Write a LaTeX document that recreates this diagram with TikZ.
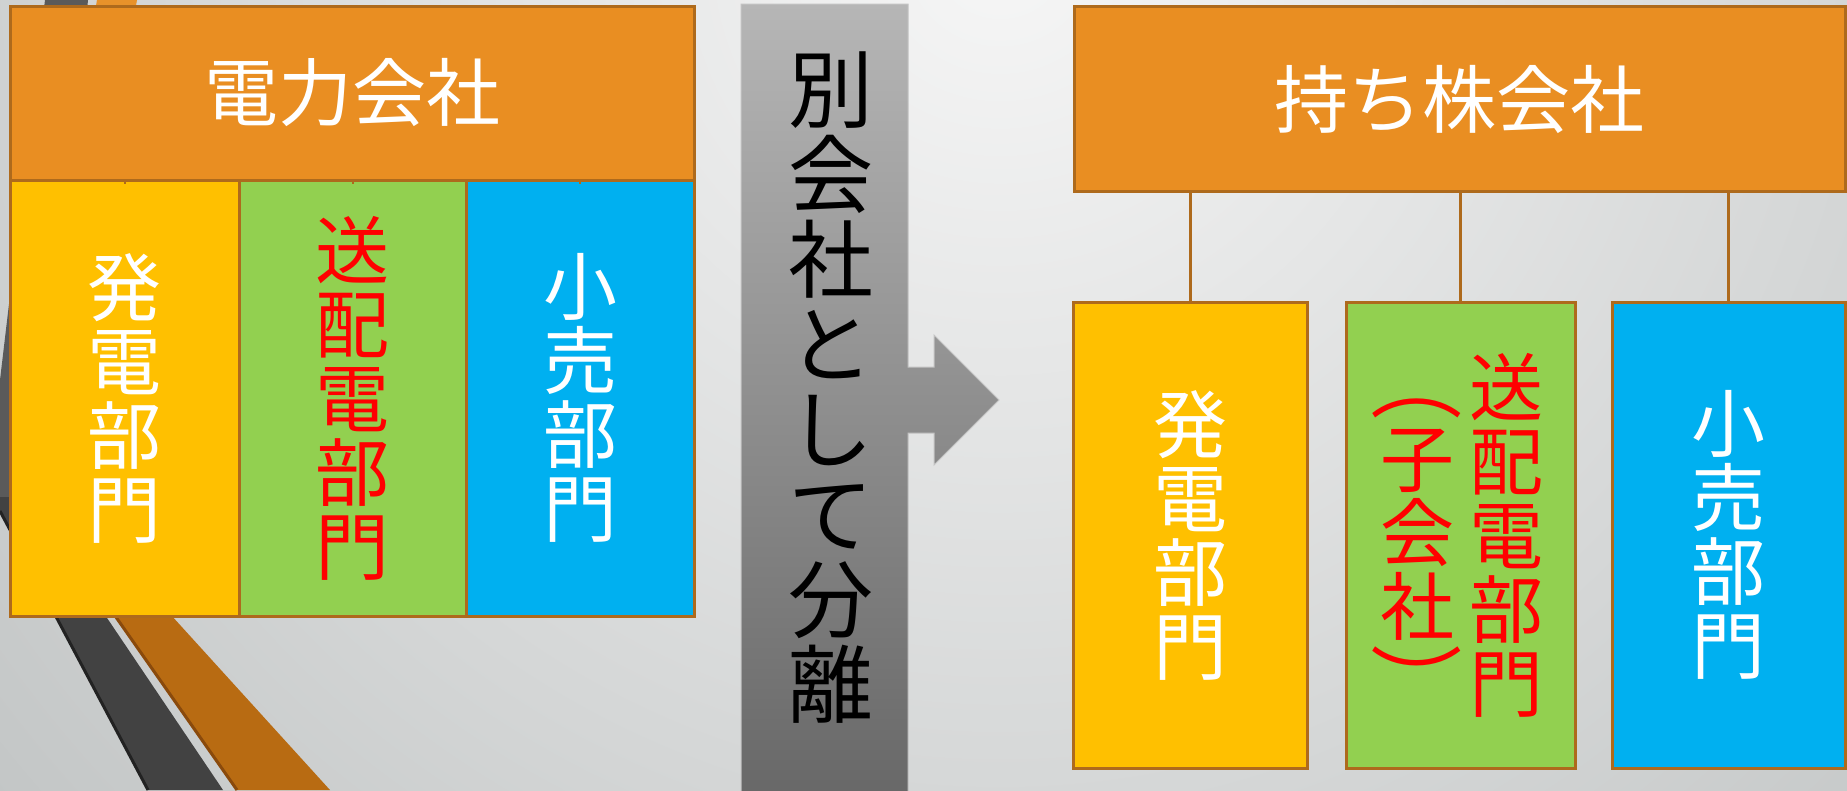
\documentclass[tikz,border=0pt]{standalone}
\usepackage{graphicx}
\usepackage{fontspec}
\newfontfamily\cjk{Noto Sans CJK JP}
\definecolor{bgin}{HTML}{F6F6F6}
\definecolor{bgout}{HTML}{B4B8B8}
\definecolor{corange}{HTML}{E98E22}
\definecolor{cyellow}{HTML}{FFC000}
\definecolor{cgreen}{HTML}{92D050}
\definecolor{cblue}{HTML}{00B0F0}
\definecolor{cedge}{HTML}{AE6A1C}
\definecolor{cdark}{HTML}{424242}
\definecolor{cdarkline}{HTML}{222222}
\definecolor{cdarktop}{HTML}{5A5A5A}
\definecolor{cbrown}{HTML}{B86B12}
\definecolor{cbrownline}{HTML}{8A4A0C}
\definecolor{ctoporange}{HTML}{E8922A}
\definecolor{cred}{HTML}{FF0000}
\definecolor{gtop}{HTML}{B6B6B6}
\definecolor{gbot}{HTML}{686868}
\definecolor{gedge}{HTML}{C4C4C4}
\begin{document}
\begin{tikzpicture}[x=1pt,y=-1pt,
  box/.style={rectangle, draw=cedge, line width=3pt, inner sep=0pt, outer sep=0pt},
  txt/.style={font=\cjk\fontsize{74}{74}\selectfont, align=center, inner sep=0pt},
  bigtxt/.style={font=\cjk\fontsize{85}{85}\selectfont, align=center, inner sep=0pt},
  link/.style={draw=cedge, line width=3pt},
  tick/.style={draw=cedge, line width=2pt}]
\useasboundingbox (0,0) rectangle (1847,790);
% background
\begin{scope}
\clip (0,0) rectangle (1847,790);
\shade[inner color=bgin, outer color=bgout] (1000,-50) circle (1700);
% decorative bands
\fill[cdarktop] (45,0) -- (88,0) -- (40,500) -- (0,500) -- (0,380) -- cycle;
\fill[ctoporange] (97,0) -- (137,0) -- (120,100) -- (80,100) -- cycle;
\fill[cdark] (0,497) -- (25.5,497) -- (223,790) -- (148,790) -- (0,511) -- cycle;
\draw[cdarkline, line width=3pt] (0,511) -- (148,790);
\fill[cbrown] (76,560) -- (121,560) -- (330,790) -- (237,790) -- cycle;
\draw[cbrownline, line width=3pt] (76,560) -- (237,790);
\end{scope}
% left: power company
\node[box, fill=corange, minimum width=684, minimum height=174, txt, text=white] (power) at (352,93) {電力会社};
\node[box, fill=cyellow, minimum width=229, minimum height=436, txt, text=white] (gl) at (124.5,398) {発\\電\\部\\門};
\node[box, fill=cgreen, minimum width=227, minimum height=436, txt, text=cred] (tl) at (352.5,398) {送\\配\\電\\部\\門};
\node[box, fill=cblue, minimum width=228, minimum height=436, txt, text=white] (rl) at (580,398) {小\\売\\部\\門};
\draw[tick] (power.south -| gl.north) -- ++(0,4);
\draw[tick] (power.south -| tl.north) -- ++(0,4);
\draw[tick] (power.south -| rl.north) -- ++(0,4);
% middle arrow
\shadedraw[top color=gtop, bottom color=gbot, draw=gedge, line width=1pt]
  (741,4) -- (908,4) -- (908,367) -- (934,367) -- (934,335) -- (999,400)
  -- (934,465) -- (934,433) -- (908,433) -- (908,795) -- (741,795) -- cycle;
\node[bigtxt, text=black] (sep) at (831,388) {別\\会\\社\\と\\し\\て\\分\\離};
% right: holding company
\node[box, fill=corange, minimum width=771, minimum height=185, txt, text=white] (hold) at (1459.5,99) {持ち株会社};
\node[box, fill=cyellow, minimum width=234, minimum height=466, txt, text=white] (gr) at (1190,535) {発\\電\\部\\門};
\node[box, fill=cgreen, minimum width=229, minimum height=466] (tr) at (1460.5,535) {};
\node[txt, text=cred] (trmain) at (1506,535) {送\\配\\電\\部\\門};
\node[txt, text=cred] (trsub) at (1417,535) {\vphantom{子}\scalebox{1.25}[1]{︵}\\子\\会\\社\\\vphantom{子}\scalebox{1.25}[1]{︶}};
\node[box, fill=cblue, minimum width=233, minimum height=466, txt, text=white] (rr) at (1728.5,535) {小\\売\\部\\門};
\draw[link] (gr.north |- hold.south) -- (gr.north);
\draw[link] (tr.north |- hold.south) -- (tr.north);
\draw[link] (rr.north |- hold.south) -- (rr.north);
\end{tikzpicture}
\end{document}
